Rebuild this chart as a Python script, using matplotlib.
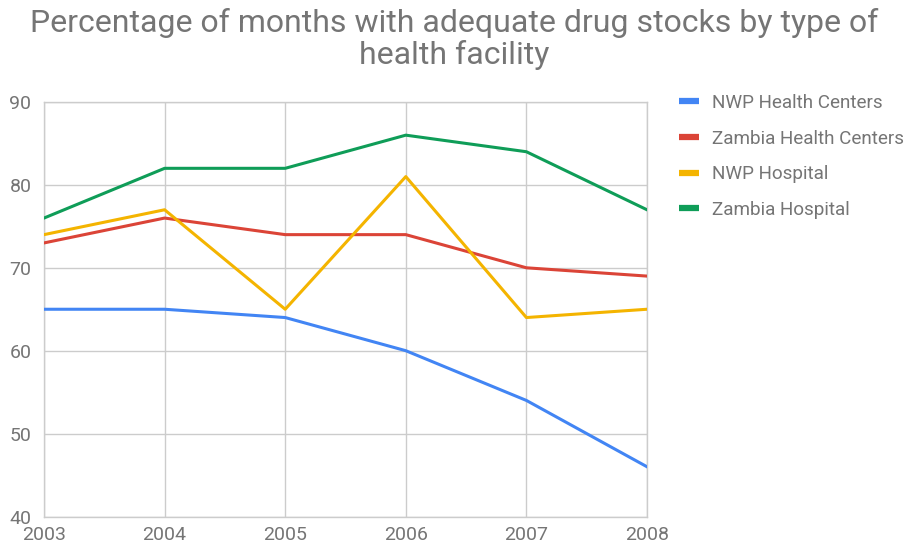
import matplotlib
matplotlib.use("Agg")
import matplotlib.pyplot as plt

years = [2003, 2004, 2005, 2006, 2007, 2008]
series_names = ["NWP Health Centers", "Zambia Health Centers", "NWP Hospital", "Zambia Hospital"]
nwp_hc = [65, 65, 64, 60, 54, 46]
zambia_hc = [73, 76, 74, 74, 70, 69]
nwp_hosp = [74, 77, 65, 81, 64, 65]
zambia_hosp = [76, 82, 82, 86, 84, 77]
y_ticks = [40, 50, 60, 70, 80, 90]
title = "Percentage of months with adequate drug stocks by type of\nhealth facility"

colors = ["#4285F4", "#DB4437", "#F4B400", "#0F9D58"]
plt.rcParams['font.family'] = ['Roboto', 'DejaVu Sans']
gray = "#757575"

fig = plt.figure(figsize=(9.09, 5.5), dpi=100)
ax = fig.add_axes([44/909, 1-516.5/550, (647-44)/909, (516.5-102)/550])

for vals, name, c in zip([nwp_hc, zambia_hc, nwp_hosp, zambia_hosp], series_names, colors):
    ax.plot(years, vals, color=c, lw=2.2, label=name, solid_joinstyle='round', zorder=3)

ax.set_xlim(years[0], years[-1])
ax.set_ylim(y_ticks[0], y_ticks[-1])
ax.set_xticks(years)
ax.set_yticks(y_ticks)
ax.grid(True, color="#cccccc", lw=1)
for s in ax.spines.values():
    s.set_color("#cccccc")
    s.set_linewidth(1)
ax.tick_params(length=0, labelsize=14, labelcolor=gray)
ax.tick_params(axis='y', pad=9)
ax.tick_params(axis='x', pad=7)

fig.text(0.5, 1-39/550, title, ha='center', va='center', fontsize=23, color=gray, linespacing=1.12)

leg = ax.legend(loc='upper left', bbox_to_anchor=(662/909, 1-77/550), bbox_transform=fig.transFigure,
                frameon=False, fontsize=13.6, labelcolor=gray, handlelength=1.05, handletextpad=0.7,
                labelspacing=0.93)
for line in leg.get_lines():
    line.set_linewidth(4.5)
    line.set_solid_capstyle('butt')

fig.savefig("out.png", dpi=100)
